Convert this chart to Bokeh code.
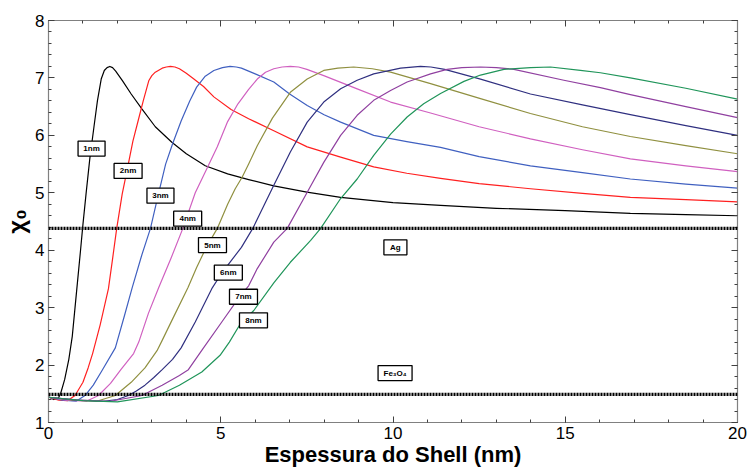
from bokeh.plotting import figure
from bokeh.models import (Range1d, LinearAxis, SingleIntervalTicker, Span,
                          ColumnDataSource, CustomJSTickFormatter)
from bokeh.core.properties import value
from bokeh.embed import file_html
from bokeh.resources import INLINE

# Susceptibility chi_0 versus Ag shell thickness, one curve per Fe3O4 core size
shell_1nm_x = [0, 0.15, 0.28, 0.35, 0.47, 0.59, 0.69, 0.77, 0.93, 1.0, 1.09, 1.2, 1.32, 1.42,
               1.53, 1.62, 1.70, 1.78, 1.86, 1.95, 2.15, 2.4, 2.71, 3.1, 3.58, 4.0, 4.55, 5.2,
               5.81, 6.54, 7.5, 8.48, 10.0, 11.38, 13.0, 15.0, 16.89, 18.5, 20]
shell_1nm_y = [1.45, 1.40, 1.42, 1.5, 1.75, 2.1, 2.5, 3.0, 4.0, 4.45, 4.98, 5.6, 6.15, 6.6,
               6.98, 7.13, 7.18, 7.2, 7.18, 7.12, 6.95, 6.72, 6.46, 6.15, 5.88, 5.68, 5.47, 5.33,
               5.23, 5.12, 5.01, 4.92, 4.83, 4.78, 4.73, 4.69, 4.64, 4.62, 4.60]

shell_2nm_x = [0, 0.3, 0.55, 0.77, 1.0, 1.15, 1.28, 1.5, 1.74, 1.86, 1.98, 2.14, 2.28, 2.45, 2.6,
               2.75, 2.91, 3.0, 3.1, 3.3, 3.42, 3.54, 3.67, 3.8, 4.0, 4.22, 4.5, 4.8, 5.3, 5.81,
               6.54, 7.51, 8.48, 9.44, 10.4, 11.38, 12.5, 13.99, 15.5, 16.89, 18.5, 20]
shell_2nm_y = [1.44, 1.39, 1.38, 1.47, 1.7, 1.95, 2.2, 2.7, 3.33, 3.85, 4.38, 4.98, 5.39, 5.9, 6.25,
               6.6, 6.95, 7.04, 7.10, 7.17, 7.19, 7.2, 7.19, 7.16, 7.08, 6.98, 6.85, 6.67, 6.45, 6.29,
               6.08, 5.8, 5.62, 5.45, 5.34, 5.25, 5.16, 5.07, 4.99, 4.92, 4.88, 4.84]

shell_3nm_x = [0, 0.4, 0.8, 1.06, 1.3, 1.55, 1.94, 2.2, 2.43, 2.7, 2.96, 3.18, 3.4, 3.6, 3.85,
               4.1, 4.3, 4.55, 4.8, 5.05, 5.27, 5.45, 5.6, 6.0, 6.54, 7.0, 7.51, 8.0, 8.48, 9.44,
               10.4, 11.38, 12.5, 13.99, 15.5, 16.89, 18.5, 20]
shell_3nm_y = [1.44, 1.39, 1.37, 1.47, 1.65, 1.9, 2.3, 2.85, 3.35, 3.9, 4.38, 4.95, 5.5, 5.85, 6.25,
               6.6, 6.84, 7.03, 7.13, 7.18, 7.2, 7.19, 7.17, 7.07, 6.93, 6.72, 6.52, 6.36, 6.23, 6.0,
               5.89, 5.79, 5.63, 5.47, 5.35, 5.24, 5.15, 5.08]

shell_4nm_x = [0, 0.5, 1.1, 1.45, 1.8, 2.1, 2.47, 2.62, 2.9, 3.2, 3.55, 3.9, 4.26, 4.62, 4.9,
               5.2, 5.5, 5.81, 6.06, 6.3, 6.54, 6.78, 7.02, 7.26, 7.5, 7.99, 8.96, 9.93, 11.09,
               12.5, 13.99, 15.5, 16.89, 18.5, 20]
shell_4nm_y = [1.44, 1.39, 1.37, 1.47, 1.68, 1.92, 2.2, 2.4, 2.9, 3.35, 3.85, 4.38, 5.0, 5.45, 5.8,
               6.24, 6.55, 6.8, 6.98, 7.1, 7.16, 7.19, 7.2, 7.19, 7.15, 7.04, 6.81, 6.58, 6.39,
               6.15, 5.94, 5.75, 5.59, 5.47, 5.37]

shell_5nm_x = [0, 0.7, 1.4, 1.94, 2.4, 2.8, 3.15, 3.3, 3.6, 4.05, 4.3, 4.58, 4.9, 5.2, 5.42,
               5.62, 5.81, 6.06, 6.5, 7.02, 7.51, 7.99, 8.4, 8.86, 9.4, 9.93, 11.09, 12.54, 13.99,
               15.5, 16.89, 18.5, 20]
shell_5nm_y = [1.44, 1.39, 1.37, 1.47, 1.7, 1.95, 2.25, 2.43, 2.8, 3.35, 3.7, 4.05, 4.38, 4.8, 5.07,
               5.27, 5.5, 5.82, 6.3, 6.75, 6.98, 7.13, 7.17, 7.19, 7.16, 7.10, 6.9, 6.64, 6.38,
               6.15, 5.98, 5.82, 5.68]

shell_6nm_x = [0, 0.8, 1.6, 2.0, 2.32, 2.55, 2.8, 3.05, 3.3, 3.6, 3.85, 4.26, 4.74, 5.05, 5.6,
               5.93, 6.54, 7.02, 7.51, 7.99, 8.48, 8.96, 9.44, 10.22, 10.8, 11.1, 11.5, 12.54,
               13.99, 15.5, 16.89, 18.5, 20]
shell_6nm_y = [1.44, 1.39, 1.37, 1.40, 1.47, 1.55, 1.65, 1.78, 1.92, 2.1, 2.3, 2.75, 3.33, 3.62, 4.05,
               4.38, 5.13, 5.71, 6.23, 6.58, 6.81, 6.96, 7.07, 7.17, 7.2, 7.19, 7.15, 6.98,
               6.72, 6.53, 6.36, 6.17, 6.0]

shell_7nm_x = [0, 0.9, 1.8, 2.71, 3.3, 3.8, 4.06, 4.5, 5.03, 5.57, 5.81, 6.06, 6.54, 6.93, 7.51,
               7.99, 8.48, 8.96, 9.44, 9.93, 10.41, 11.09, 11.57, 12.0, 12.54, 13.0, 13.51, 14.96,
               16.02, 16.89, 18.5, 20]
shell_7nm_y = [1.44, 1.39, 1.37, 1.47, 1.65, 1.82, 1.92, 2.3, 2.75, 3.21, 3.38, 3.68, 4.14, 4.38, 5.01,
               5.53, 6.0, 6.35, 6.61, 6.78, 6.93, 7.07, 7.15, 7.18, 7.19, 7.18, 7.15, 6.96,
               6.83, 6.71, 6.5, 6.31]

shell_8nm_x = [0, 1.0, 2.0, 3.19, 3.8, 4.45, 4.98, 5.25, 5.57, 5.96, 6.54, 7.02, 7.61, 7.9, 8.48,
               8.96, 9.44, 9.93, 10.41, 10.89, 11.38, 12.06, 12.54, 13.22, 13.99, 14.57, 15.44,
               16.02, 16.89, 18.5, 20]
shell_8nm_y = [1.44, 1.38, 1.36, 1.47, 1.65, 1.88, 2.17, 2.4, 2.72, 2.95, 3.43, 3.79, 4.17, 4.38, 4.90,
               5.24, 5.65, 6.02, 6.32, 6.55, 6.73, 6.94, 7.05, 7.15, 7.18, 7.19, 7.13,
               7.09, 7.0, 6.82, 6.63]

core_labels = ["1nm", "2nm", "3nm", "4nm", "5nm", "6nm", "7nm", "8nm"]
curve_colors = ["#000000", "#ff2020", "#4060c0", "#d060c0", "#909040", "#303080", "#9040a0", "#20955a"]

# bulk reference values (dotted lines)
chi_ag = 4.38
chi_fe3o4 = 1.49

# annotation boxes: text and anchor in data coordinates
note_text = ["1nm", "2nm", "3nm", "4nm", "5nm", "6nm", "7nm", "8nm", "Ag", "Fe₃O₄"]
note_x = [1.25, 2.31, 3.25, 4.04, 4.76, 5.22, 5.66, 5.95, 10.07, 10.06]
note_y = [5.77, 5.38, 4.95, 4.55, 4.09, 3.61, 3.19, 2.78, 4.05, 1.86]
note_box_w = [27, 28, 27, 28, 28, 28, 28, 28, 23, 34]

series = [
    (shell_1nm_x, shell_1nm_y), (shell_2nm_x, shell_2nm_y), (shell_3nm_x, shell_3nm_y),
    (shell_4nm_x, shell_4nm_y), (shell_5nm_x, shell_5nm_y), (shell_6nm_x, shell_6nm_y),
    (shell_7nm_x, shell_7nm_y), (shell_8nm_x, shell_8nm_y),
]

FONT = "Liberation Sans"
AXIS_GREY = "#808080"

p = figure(width=748, height=469, output_backend="svg", toolbar_location=None,
           x_range=Range1d(0, 20), y_range=Range1d(1, 8),
           min_border_left=48, min_border_right=11, min_border_top=20, min_border_bottom=47,
           x_axis_location=None, y_axis_location=None)
p.xgrid.visible = False
p.ygrid.visible = False
p.outline_line_color = None
p.background_fill_color = "white"
p.border_fill_color = "white"


def style_axis(ax, show_labels):
    ax.axis_line_color = AXIS_GREY
    ax.axis_line_width = 1.2
    ax.major_tick_in = 6
    ax.major_tick_out = 0
    ax.minor_tick_in = 3
    ax.minor_tick_out = 0
    ax.major_tick_line_color = "#404040"
    ax.minor_tick_line_color = "#404040"
    if show_labels:
        ax.major_label_text_font = FONT
        ax.major_label_text_font_size = "17px"
        ax.major_label_text_color = "black"
        ax.major_label_standoff = 4
    else:
        ax.formatter = CustomJSTickFormatter(code="return ''")
        ax.major_label_text_font_size = "6px"
        ax.major_label_standoff = 0


x_bottom = LinearAxis(ticker=SingleIntervalTicker(interval=5, num_minor_ticks=5))
style_axis(x_bottom, True)
x_bottom.axis_label = "Espessura do Shell (nm)"
x_bottom.axis_label_text_font = FONT
x_bottom.axis_label_text_font_style = "bold"
x_bottom.axis_label_text_font_size = "22px"
x_bottom.axis_label_text_color = "black"
x_bottom.axis_label_standoff = 0
p.add_layout(x_bottom, "below")

y_left = LinearAxis(ticker=SingleIntervalTicker(interval=1, num_minor_ticks=5))
style_axis(y_left, True)
y_left.axis_label = "χ₀"
y_left.axis_label_text_font = FONT
y_left.axis_label_text_font_style = "bold"
y_left.axis_label_text_font_size = "24px"
y_left.axis_label_text_color = "black"
y_left.axis_label_standoff = 2
p.add_layout(y_left, "left")

x_top = LinearAxis(ticker=SingleIntervalTicker(interval=5, num_minor_ticks=5))
style_axis(x_top, False)
p.add_layout(x_top, "above")

y_right = LinearAxis(ticker=SingleIntervalTicker(interval=1, num_minor_ticks=5))
style_axis(y_right, False)
p.add_layout(y_right, "right")

# dotted bulk reference lines
for level in (chi_ag, chi_fe3o4):
    p.add_layout(Span(location=level, dimension="width", line_color="black",
                      line_width=3.2, line_dash="2 1"))

for (xs, ys), color in zip(series, curve_colors):
    p.line(xs, ys, line_color=color, line_width=1.2, line_join="round")

notes = ColumnDataSource(dict(x=note_x, y=note_y, text=note_text, w=note_box_w))
p.rect(x="x", y="y", width="w", height=15, width_units="screen", height_units="screen",
       source=notes, fill_color="white", line_color="black", line_width=1.3)
p.text(x="x", y="y", text="text", source=notes, text_align="center", text_baseline="middle",
       text_font=value(FONT), text_font_style="bold", text_font_size="8px", text_color="black")

open("out.html", "w").write(file_html(p, INLINE))
